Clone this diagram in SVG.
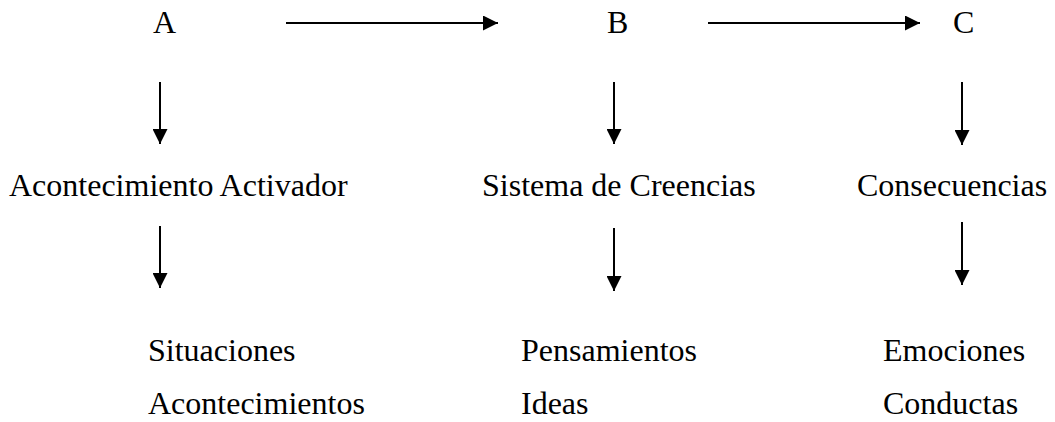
<svg xmlns="http://www.w3.org/2000/svg" width="1055" height="422" viewBox="0 0 1055 422">
<defs>
<style>
.c line{stroke:#000;stroke-width:2}
.t{font-family:"Liberation Serif","Times New Roman",Tinos,serif;font-size:32px;fill:#000}
</style>
<marker id="ah" viewBox="0 0 15 15" refX="15" refY="7.5" markerWidth="15" markerHeight="15" markerUnits="userSpaceOnUse" orient="auto">
<path d="M0,0 L15,7.5 L0,15 Z" fill="#000"/>
</marker>
</defs>
<rect width="1055" height="422" fill="#fff"/>
<g class="t">
<g id="nA"><text x="153" y="33">A</text></g>
<g id="nB"><text x="607" y="33">B</text></g>
<g id="nC"><text x="953" y="33">C</text></g>
<g id="nA1"><text x="9" y="196">Acontecimiento Activador</text></g>
<g id="nB1"><text x="482" y="196">Sistema de Creencias</text></g>
<g id="nC1"><text x="857" y="196">Consecuencias</text></g>
<g id="nA2"><text x="148" y="361">Situaciones</text><text x="148" y="414">Acontecimientos</text></g>
<g id="nB2"><text x="521" y="361">Pensamientos</text><text x="521" y="414">Ideas</text></g>
<g id="nC2"><text x="883" y="361">Emociones</text><text x="883" y="414">Conductas</text></g>
</g>
<g id="connectors" class="c">
<line x1="286" y1="23" x2="498" y2="23" marker-end="url(#ah)"/>
<line x1="708" y1="23" x2="920" y2="23" marker-end="url(#ah)"/>
<line x1="160" y1="82" x2="160" y2="144" marker-end="url(#ah)"/>
<line x1="614" y1="82" x2="614" y2="144" marker-end="url(#ah)"/>
<line x1="962" y1="82" x2="962" y2="145" marker-end="url(#ah)"/>
<line x1="160" y1="226" x2="160" y2="288" marker-end="url(#ah)"/>
<line x1="614" y1="228" x2="614" y2="291" marker-end="url(#ah)"/>
<line x1="962" y1="222" x2="962" y2="285" marker-end="url(#ah)"/>
</g>
</svg>
